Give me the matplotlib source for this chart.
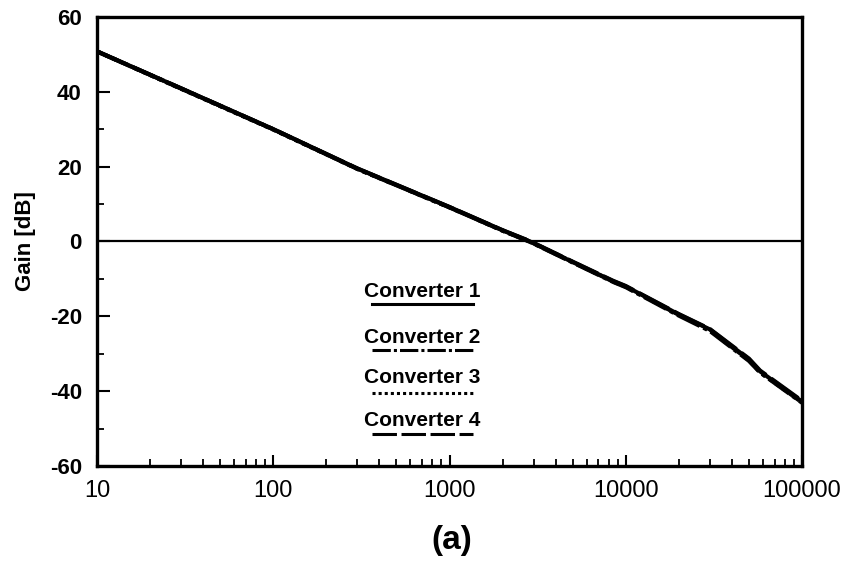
import numpy as np
import matplotlib
matplotlib.use('Agg')
import matplotlib.pyplot as plt

plt.rcParams['font.family'] = ['Liberation Sans', 'DejaVu Sans']
plt.rcParams['axes.unicode_minus'] = False

# frequency [Hz] and gain [dB], one curve per converter
freq = [10, 30, 100, 300, 1000, 2000, 2860, 5000, 8470, 10000, 20000, 30000, 50000, 57800, 100000]
gain_1 = [50.8, 40.9, 30.0, 19.5, 9.2, 3.0, 0.0, -5.5, -10.6, -12.0, -19.5, -23.5, -31.5, -34.7, -42.8]
gain_2 = [50.8, 40.9, 30.0, 19.4, 9.1, 2.9, -0.1, -5.6, -10.8, -12.2, -19.8, -23.9, -31.9, -35.0, -43.1]
gain_3 = [50.8, 40.8, 29.9, 19.4, 9.1, 2.9, 0.0, -5.5, -10.7, -12.1, -19.6, -23.7, -31.7, -34.9, -43.0]
gain_4 = [50.8, 40.9, 30.0, 19.5, 9.2, 3.0, 0.1, -5.4, -10.5, -11.9, -19.4, -23.4, -31.3, -34.5, -42.6]

labels = ['Converter 1', 'Converter 2', 'Converter 3', 'Converter 4']
styles = ['-', (0, (6, 1, 1, 1)), (0, (1, 1)), (0, (8, 1.5))]

fig = plt.figure(figsize=(8.49, 5.64), dpi=100)
ax = fig.add_axes([0.1143, 0.1738, 0.8303, 0.7961])

for g, ls in zip([gain_1, gain_2, gain_3, gain_4], styles):
    ax.plot(freq, g, color='black', lw=3.0, ls=ls)

ax.axhline(0, color='black', lw=1.6)

ax.set_xscale('log')
ax.set_xlim(10, 100000)
ax.set_ylim(-60, 60)
ax.set_xticks([10, 100, 1000, 10000, 100000])
ax.set_xticklabels(['10', '100', '1000', '10000', '100000'])
ax.set_yticks(np.arange(-60, 61, 20))
ax.set_yticks(np.arange(-50, 60, 20), minor=True)

ax.tick_params(which='major', direction='in', width=1.5, length=9, colors='black')
ax.tick_params(which='minor', direction='in', width=1.3, length=5)
ax.tick_params(axis='x', which='major', length=8, pad=10, labelsize=17)
ax.tick_params(axis='y', which='major', labelsize=16, pad=11)
for t in ax.get_yticklabels():
    t.set_fontweight('bold')
for s in ax.spines.values():
    s.set_linewidth(2.4)

ax.set_ylabel('Gain [dB]', fontsize=16, fontweight='bold', labelpad=10)

# hand-drawn style key in the middle of the plot
text_y = [0.3875, 0.287, 0.198, 0.102]
line_y = [0.361, 0.258, 0.163, 0.071]
for lab, ls, ty, ly in zip(labels, styles, text_y, line_y):
    ax.text(0.461, ty, lab, transform=ax.transAxes, ha='center', va='center',
            fontsize=15, fontweight='bold')
    ax.plot([0.390, 0.533], [ly, ly], transform=ax.transAxes, color='black',
            lw=2.2, ls=ls)

fig.text(452 / 849, 1 - 541 / 564, '(a)', ha='center', va='center',
         fontsize=24, fontweight='bold')

fig.savefig('out.png', dpi=100)
